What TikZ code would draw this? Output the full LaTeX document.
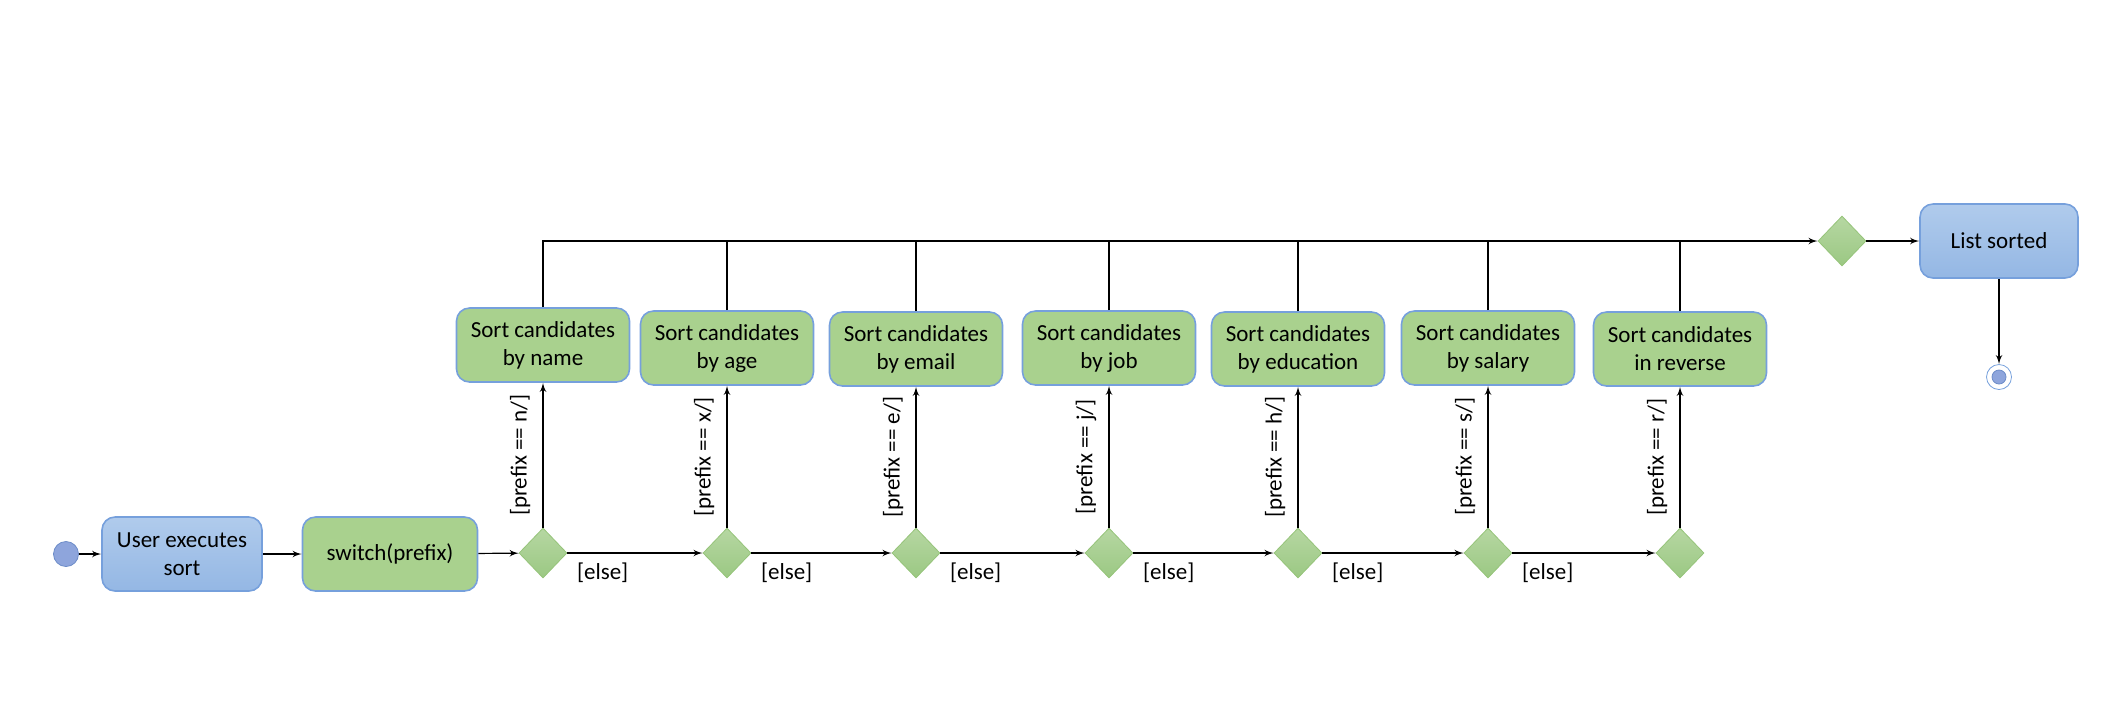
\documentclass[tikz,border=0pt]{standalone}
\usepackage{fontspec}
\setmainfont{Carlito}
\usetikzlibrary{shapes,arrows,calc,positioning,shapes.geometric}
\definecolor{bluetop}{RGB}{176,203,236}
\definecolor{bluebot}{RGB}{148,183,228}
\definecolor{blueline}{RGB}{118,160,220}
\definecolor{greenfill}{RGB}{169,209,142}
\definecolor{greentop}{RGB}{182,215,162}
\definecolor{greenbot}{RGB}{155,200,131}
\definecolor{greenline}{RGB}{150,196,122}
\definecolor{dotfill}{RGB}{142,165,220}
\definecolor{dotline}{RGB}{108,140,200}
\tikzset{
>=latex',
  bluebox/.style={
    rectangle,
    rounded corners=6.5pt,
    top color=bluetop,
    bottom color=bluebot,
    draw=blueline, thick,
    minimum width=80pt,
    minimum height=37pt,
    align=center,
    font=\fontsize{11.5}{14}\selectfont},
  greenbox/.style={
    rectangle,
    rounded corners=6.5pt,
    fill=greenfill,
    draw=blueline, thick,
    minimum width=86.5pt,
    minimum height=37pt,
    align=center,
    font=\fontsize{11.5}{14}\selectfont},
  choice/.style={
    diamond,
    top color=greentop,
    bottom color=greenbot,
    draw=greenline,
    minimum width=24pt,
    minimum height=25pt,
    inner sep=0pt},
  startnode/.style={circle, fill=dotfill, draw=dotline, minimum size=12.5pt, inner sep=0pt},
  endnode/.style={circle, fill=white, draw=blueline, minimum size=12.5pt, inner sep=0pt},
  enddot/.style={circle, fill=dotfill, draw=dotline, minimum size=7pt, inner sep=0pt},
  flow/.style={draw, line width=0.6pt, ->},
  line/.style={draw, line width=0.6pt},
  guard/.style={midway, rotate=90, anchor=south, inner sep=6pt, font=\fontsize{11.5}{13}\selectfont},
  elselabel/.style={pos=0, anchor=north west, inner sep=4.5pt, font=\fontsize{11.5}{13}\selectfont},
}

\begin{document}
\begin{tikzpicture}[x=0.5pt, y=-0.5pt]
    \useasboundingbox (0,0) rectangle (2112,720);

    % main row
    \node[startnode] (start) at (66,554) {};
    \node[bluebox] (user) at (182,554) {User executes\\sort};
    \node[greenbox, minimum width=87.5pt] (switch) at (390,554) {switch(prefix)};

    \node[choice] (dn) at (543,553) {};
    \node[choice] (dx) at (727,553) {};
    \node[choice] (de) at (916,553) {};
    \node[choice] (dj) at (1109,553) {};
    \node[choice] (dh) at (1298,553) {};
    \node[choice] (ds) at (1488,553) {};
    \node[choice] (dr) at (1680,553) {};

    % sort actions
    \node[greenbox] (byname) at (543,345) {Sort candidates\\by name};
    \node[greenbox] (byage) at (727,348) {Sort candidates\\by age};
    \node[greenbox] (byemail) at (916,349) {Sort candidates\\by email};
    \node[greenbox] (byjob) at (1109,348) {Sort candidates\\by job};
    \node[greenbox] (byedu) at (1298,349) {Sort candidates\\by education};
    \node[greenbox] (bysalary) at (1488,348) {Sort candidates\\by salary};
    \node[greenbox] (reverse) at (1680,349) {Sort candidates\\in reverse};

    % end
    \node[choice] (merge) at (1842,241) {};
    \node[bluebox, minimum width=79pt] (sorted) at (1999,241) {List sorted};
    \node[endnode] (end) at (1999,377) {};
    \node[enddot] (endin) at (end) {};

    \draw[flow] (start) -- (user);
    \draw[flow] (user) -- (switch);
    \draw[flow] (switch) -- (dn);

    \draw[flow] (dn) -- (byname) node[guard] {[prefix == n/]};
    \draw[flow] (dx) -- (byage) node[guard] {[prefix == x/]};
    \draw[flow] (de) -- (byemail) node[guard] {[prefix == e/]};
    \draw[flow] (dj) -- (byjob) node[guard] {[prefix == j/]};
    \draw[flow] (dh) -- (byedu) node[guard] {[prefix == h/]};
    \draw[flow] (ds) -- (bysalary) node[guard] {[prefix == s/]};
    \draw[flow] (dr) -- (reverse) node[guard] {[prefix == r/]};

    \draw[flow] (dn) -- (dx) node[elselabel] {[else]};
    \draw[flow] (dx) -- (de) node[elselabel] {[else]};
    \draw[flow] (de) -- (dj) node[elselabel] {[else]};
    \draw[flow] (dj) -- (dh) node[elselabel] {[else]};
    \draw[flow] (dh) -- (ds) node[elselabel] {[else]};
    \draw[flow] (ds) -- (dr) node[elselabel] {[else]};

    \draw[flow] (byname) |- (merge);
    \draw[line] (byage) -- (byage |- merge);
    \draw[line] (byemail) -- (byemail |- merge);
    \draw[line] (byjob) -- (byjob |- merge);
    \draw[line] (byedu) -- (byedu |- merge);
    \draw[line] (bysalary) -- (bysalary |- merge);
    \draw[line] (reverse) -- (reverse |- merge);

    \draw[flow] (merge) -- (sorted);
    \draw[flow] (sorted) -- (end);
\end{tikzpicture}
\end{document}
